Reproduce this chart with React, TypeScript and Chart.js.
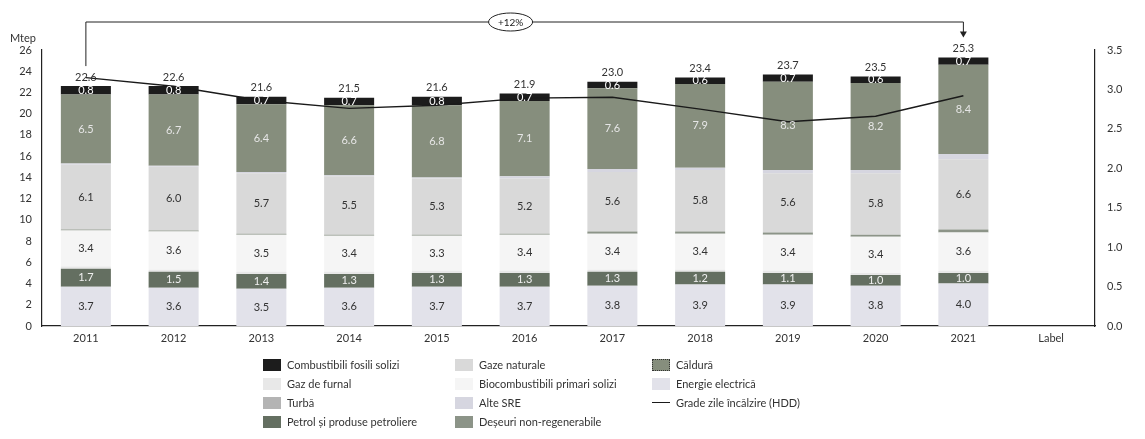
import React, { useEffect, useRef } from "react";
import { Chart, registerables } from "chart.js";

Chart.register(...registerables);

const categories = ["2011", "2012", "2013", "2014", "2015", "2016", "2017", "2018", "2019", "2020", "2021", "Label"];

const energieElectrica = [3.7, 3.6, 3.5, 3.6, 3.7, 3.7, 3.8, 3.9, 3.9, 3.8, 4.0, null];
const petrol = [1.7, 1.5, 1.4, 1.3, 1.3, 1.3, 1.3, 1.2, 1.1, 1.0, 1.0, null];
const gazFurnal = [0.2, 0.2, 0.2, 0.2, 0.2, 0.2, 0.2, 0.2, 0.2, 0.2, 0.2, null];
const biocombustibili = [3.4, 3.6, 3.5, 3.4, 3.3, 3.4, 3.4, 3.4, 3.4, 3.4, 3.6, null];
const deseuri = [0.1, 0.1, 0.1, 0.1, 0.1, 0.1, 0.2, 0.2, 0.2, 0.2, 0.3, null];
const gazeNaturale = [6.1, 6.0, 5.7, 5.5, 5.3, 5.2, 5.6, 5.8, 5.6, 5.8, 6.6, null];
const alteSre = [0.1, 0.1, 0.1, 0.1, 0.1, 0.2, 0.3, 0.2, 0.3, 0.3, 0.5, null];
const caldura = [6.5, 6.7, 6.4, 6.6, 6.8, 7.1, 7.6, 7.9, 8.3, 8.2, 8.4, null];
const turba = [0, 0, 0, 0, 0, 0, 0, 0, 0, 0, 0, null];
const combustibiliSolizi = [0.8, 0.8, 0.7, 0.7, 0.8, 0.7, 0.6, 0.6, 0.7, 0.6, 0.7, null];
const totals = [22.6, 22.6, 21.6, 21.5, 21.6, 21.9, 23.0, 23.4, 23.7, 23.5, 25.3, null];
const hdd = [3.15, 3.04, 2.86, 2.76, 2.8, 2.89, 2.9, 2.75, 2.59, 2.66, 2.92, null];

const leftTicks = [0, 2, 4, 6, 8, 10, 12, 14, 16, 18, 20, 22, 24, 26];
const rightTicks = [0, 0.5, 1.0, 1.5, 2.0, 2.5, 3.0, 3.5];
const growthLabel = "+12%";
const unitLabel = "Mtep";

const FONT = "Lato, 'Liberation Sans', sans-serif";

const COLORS = {
  comb: "#1c1c1c",
  gazFurnal: "#e8e8e8",
  turba: "#b4b4b4",
  petrol: "#646f61",
  gaze: "#d9d9d9",
  bio: "#f5f5f5",
  alte: "#d6d6e0",
  deseuri: "#8c9488",
  caldura: "#868e7d",
  energie: "#e2e2ea",
};

type LegendItem = { label: string; color?: string; line?: boolean; border?: string };
const legendColumns: LegendItem[][] = [
  [
    { label: "Combustibili fosili solizi", color: COLORS.comb },
    { label: "Gaz de furnal", color: COLORS.gazFurnal },
    { label: "Turbă", color: COLORS.turba },
    { label: "Petrol și produse petroliere", color: COLORS.petrol },
  ],
  [
    { label: "Gaze naturale", color: COLORS.gaze },
    { label: "Biocombustibili primari solizi", color: COLORS.bio },
    { label: "Alte SRE", color: COLORS.alte },
    { label: "Deșeuri non-regenerabile", color: COLORS.deseuri },
  ],
  [
    { label: "Căldură", color: COLORS.caldura, border: "#333" },
    { label: "Energie electrică", color: COLORS.energie },
    { label: "Grade zile încălzire (HDD)", line: true },
  ],
];

const labelPlugin = {
  id: "segLabels",
  afterDatasetsDraw(chart: any) {
    const ctx = chart.ctx;
    ctx.save();
    ctx.font = `11px ${FONT}`;
    ctx.textAlign = "center";
    ctx.textBaseline = "middle";
    chart.data.datasets.forEach((ds: any, i: number) => {
      if (!ds.showLabel) return;
      const meta = chart.getDatasetMeta(i);
      meta.data.forEach((el: any, j: number) => {
        const v = ds.data[j];
        if (v == null) return;
        const y = (el.y + el.base) / 2;
        ctx.fillStyle = ds.labelColor;
        ctx.fillText(v.toFixed(1), el.x, y);
      });
    });
    // totals
    const topIdx = chart.data.datasets.findIndex((d: any) => d.isTop);
    const topMeta = chart.getDatasetMeta(topIdx);
    ctx.fillStyle = "#333";
    topMeta.data.forEach((el: any, j: number) => {
      const t = totals[j];
      if (t == null) return;
      ctx.fillText(t.toFixed(1), el.x, el.y - 9);
    });
    // unit
    ctx.textAlign = "left";
    ctx.fillText(unitLabel, 10, 38);
    // bracket
    const x0 = topMeta.data[0].x;
    const x1 = topMeta.data[10].x;
    const yTop = 22;
    ctx.strokeStyle = "#222";
    ctx.lineWidth = 1;
    ctx.beginPath();
    ctx.moveTo(x0, topMeta.data[0].y - 20);
    ctx.lineTo(x0, yTop);
    ctx.lineTo(x1, yTop);
    ctx.lineTo(x1, topMeta.data[10].y - 22);
    ctx.stroke();
    ctx.fillStyle = "#222";
    ctx.beginPath();
    const ay = topMeta.data[10].y - 20;
    ctx.moveTo(x1 - 3.5, ay - 6);
    ctx.lineTo(x1 + 3.5, ay - 6);
    ctx.lineTo(x1, ay);
    ctx.closePath();
    ctx.fill();
    const ex = chart.chartArea.left + chart.chartArea.width * 0.445;
    ctx.fillStyle = "#fff";
    ctx.beginPath();
    ctx.ellipse(ex, yTop, 22, 9, 0, 0, Math.PI * 2);
    ctx.fill();
    ctx.stroke();
    ctx.fillStyle = "#222";
    ctx.textAlign = "center";
    ctx.font = `10px ${FONT}`;
    ctx.fillText(growthLabel, ex, yTop + 0.5);
    ctx.restore();
  },
};

function bar(label: string, data: any[], color: string, extra: any = {}) {
  return {
    type: "bar" as const,
    label,
    data,
    backgroundColor: color,
    borderWidth: 0,
    stack: "s",
    yAxisID: "y",
    order: 1,
    barPercentage: 0.57,
    categoryPercentage: 1,
    ...extra,
  };
}

export default function App() {
  const ref = useRef<HTMLCanvasElement>(null);
  useEffect(() => {
    if (!ref.current) return;
    const chart = new Chart(ref.current, {
      data: {
        labels: categories,
        datasets: [
          {
            type: "line",
            label: "Grade zile încălzire (HDD)",
            data: hdd,
            yAxisID: "y1",
            borderColor: "#1a1a1a",
            borderWidth: 1.4,
            pointRadius: 0,
            tension: 0,
            order: 0,
          } as any,
          bar("Energie electrică", energieElectrica, COLORS.energie, { showLabel: true, labelColor: "#333" }),
          bar("Petrol și produse petroliere", petrol, COLORS.petrol, { showLabel: true, labelColor: "#f0f0f0" }),
          bar("Gaz de furnal", gazFurnal, COLORS.gazFurnal),
          bar("Biocombustibili primari solizi", biocombustibili, COLORS.bio, { showLabel: true, labelColor: "#333" }),
          bar("Deșeuri non-regenerabile", deseuri, COLORS.deseuri),
          bar("Gaze naturale", gazeNaturale, COLORS.gaze, { showLabel: true, labelColor: "#333" }),
          bar("Alte SRE", alteSre, COLORS.alte),
          bar("Căldură", caldura, COLORS.caldura, { showLabel: true, labelColor: "#e6e6e6" }),
          bar("Turbă", turba, COLORS.turba),
          bar("Combustibili fosili solizi", combustibiliSolizi, COLORS.comb, { showLabel: true, labelColor: "#ffffff", isTop: true }),
        ],
      },
      options: {
        responsive: false,
        animation: false,
        layout: { padding: { top: 50, bottom: 83, left: 0, right: 0 } },
        plugins: { legend: { display: false }, tooltip: { enabled: false } },
        scales: {
          x: {
            stacked: true,
            grid: { display: false, drawTicks: false },
            border: { color: "#222", width: 1.2 },
            ticks: { color: "#333", font: { family: FONT, size: 11 }, padding: 6 },
            afterFit: (s: any) => { s.height = 30; },
          },
          y: {
            stacked: true,
            min: 0,
            max: 26,
            afterBuildTicks: (s: any) => { s.ticks = leftTicks.map((v) => ({ value: v })); },
            grid: { display: false, drawOnChartArea: false, drawTicks: true, tickLength: 4, color: "#222" },
            border: { color: "#222", width: 1.2 },
            ticks: { color: "#333", font: { family: FONT, size: 11 }, padding: 6 },
            afterFit: (s: any) => { s.width = 42; },
          },
          y1: {
            position: "right",
            min: 0,
            max: 3.5,
            afterBuildTicks: (s: any) => { s.ticks = rightTicks.map((v) => ({ value: v })); },
            grid: { display: false, drawOnChartArea: false, drawTicks: true, tickLength: 4, color: "#222" },
            border: { color: "#222", width: 1.2 },
            ticks: { color: "#333", font: { family: FONT, size: 11 }, padding: 8, callback: (v: any) => Number(v).toFixed(1) },
            afterFit: (s: any) => { s.width = 50; },
          },
        },
      },
      plugins: [labelPlugin],
    });
    return () => chart.destroy();
  }, []);

  return (
    <div style={{ position: "fixed", left: 0, top: 0, width: 1145, height: 439, background: "#fff", fontFamily: FONT }}>
      <canvas ref={ref} width={1145} height={439} style={{ position: "absolute", left: 0, top: 0 }} />
      {legendColumns.map((col, ci) => (
        <div key={ci} style={{ position: "absolute", left: [263, 455, 652][ci], top: 355 }}>
          {col.map((it, ri) => (
            <div key={ri} style={{ display: "flex", alignItems: "center", height: 19, fontSize: 11, color: "#333", whiteSpace: "nowrap" }}>
              {it.line ? (
                <span style={{ display: "inline-block", width: 18, height: 0, borderTop: "1.5px solid #1a1a1a", marginRight: 6 }} />
              ) : (
                <span style={{ display: "inline-block", width: 18, height: 12, background: it.color, border: it.border ? `1px dotted ${it.border}` : "none", boxSizing: "border-box", marginRight: 6 }} />
              )}
              <span>{it.label}</span>
            </div>
          ))}
        </div>
      ))}
    </div>
  );
}
